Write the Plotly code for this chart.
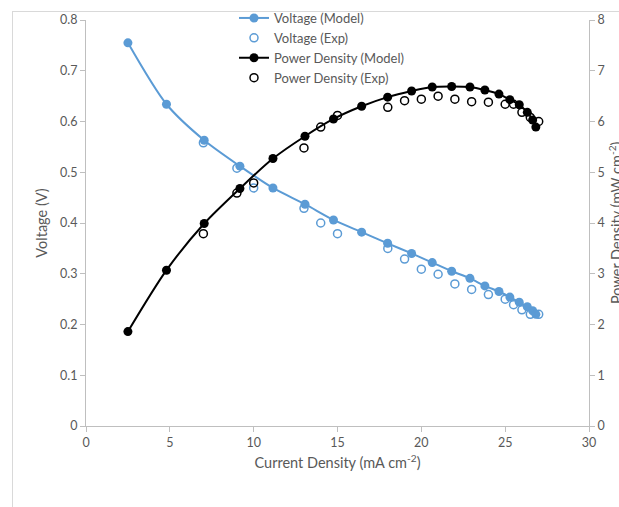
import plotly.graph_objects as go

# Model curves
model_current = [2.5, 4.8, 7.05, 9.18, 11.15, 13.06, 14.76, 16.44, 17.99, 19.42,
                 20.65, 21.81, 22.9, 23.79, 24.63, 25.28, 25.84, 26.32, 26.64, 26.83]
model_voltage = [0.755, 0.634, 0.563, 0.512, 0.469, 0.437, 0.406, 0.382, 0.360, 0.340,
                 0.322, 0.305, 0.291, 0.276, 0.265, 0.254, 0.244, 0.235, 0.227, 0.220]
model_power = [1.86, 3.07, 3.99, 4.68, 5.27, 5.71, 6.05, 6.30, 6.48, 6.60,
               6.68, 6.69, 6.68, 6.62, 6.54, 6.43, 6.33, 6.18, 6.03, 5.89]

# Experimental data
exp_current = [7, 9, 10, 13, 14, 15, 18, 19, 20, 21, 22, 23, 24, 25, 25.5, 26, 26.5, 27]
exp_voltage = [0.558, 0.508, 0.469, 0.429, 0.400, 0.379, 0.350, 0.329, 0.309, 0.299,
               0.280, 0.269, 0.259, 0.250, 0.239, 0.229, 0.220, 0.220]
exp_power = [3.79, 4.59, 4.79, 5.48, 5.89, 6.12, 6.28, 6.41, 6.44, 6.50,
             6.44, 6.39, 6.38, 6.34, 6.34, 6.18, 6.08, 6.00]

BLUE = "#5B9BD5"
GRAY = "#595959"
AXIS = "#BFBFBF"
FONT = "Lato"

fig = go.Figure()
fig.add_trace(go.Scatter(
    x=model_current, y=model_voltage, name="Voltage (Model)",
    mode="lines+markers", line=dict(color=BLUE, width=2, shape="spline", smoothing=0.8),
    marker=dict(color=BLUE, size=9, symbol="circle"), yaxis="y"))
fig.add_trace(go.Scatter(
    x=exp_current, y=exp_voltage, name="Voltage (Exp)", mode="markers",
    marker=dict(color=BLUE, size=8, symbol="circle-open", line=dict(width=1.5)),
    yaxis="y"))
fig.add_trace(go.Scatter(
    x=model_current, y=model_power, name="Power Density (Model)",
    mode="lines+markers", line=dict(color="black", width=2, shape="spline", smoothing=0.8),
    marker=dict(color="black", size=9, symbol="circle"), yaxis="y2"))
fig.add_trace(go.Scatter(
    x=exp_current, y=exp_power, name="Power Density (Exp)", mode="markers",
    marker=dict(color="black", size=8, symbol="circle-open", line=dict(width=1.5)),
    yaxis="y2"))

L, R, T, B = 86, 30, 20, 81
W, H = 619, 507
pw, ph = W - L - R, H - T - B

def px_x(p):
    return (p - L) / pw

def px_y(p):
    return (H - B - p) / ph

axis_common = dict(showgrid=False, zeroline=False, showline=True, linecolor=AXIS,
                   linewidth=1, ticks="outside", ticklen=5, tickcolor=AXIS,
                   tickfont=dict(family=FONT, size=12.5, color=GRAY))

fig.update_layout(
    width=W, height=H,
    margin=dict(l=L, r=R, t=T, b=B, pad=0, autoexpand=False),
    paper_bgcolor="white", plot_bgcolor="white",
    font=dict(family=FONT, size=12, color=GRAY),
    xaxis=dict(range=[0, 30], dtick=5, tick0=0,
               title=dict(text="Current Density (mA cm<sup>-2</sup>)",
                          font=dict(family=FONT, size=14.5, color=GRAY), standoff=8),
               **axis_common),
    yaxis=dict(range=[0, 0.8], dtick=0.1, tick0=0,
               title=dict(text="Voltage (V)", font=dict(family=FONT, size=14.5, color=GRAY),
                          standoff=8),
               **axis_common),
    yaxis2=dict(range=[0, 8], dtick=1, tick0=0, overlaying="y", side="right",
                **axis_common),
    showlegend=True,
    legend=dict(x=px_x(234), y=px_y(3), xanchor="left", yanchor="top",
                bgcolor="rgba(0,0,0,0)", font=dict(family=FONT, size=13, color=GRAY),
                tracegroupgap=0),
)

# Right axis title (partially clipped at the figure edge like the reference)
fig.add_annotation(text="Power Density (mW cm<sup>-2</sup>)", xref="paper", yref="paper",
                   x=px_x(615), y=0.5, xanchor="center", yanchor="middle",
                   textangle=-90, showarrow=False,
                   font=dict(family=FONT, size=14.5, color=GRAY))

# outer chart frame
fig.add_shape(type="line", xref="paper", yref="paper",
              x0=px_x(12), x1=px_x(640), y0=px_y(11.5), y1=px_y(11.5),
              line=dict(color="#D9D9D9", width=1))
fig.add_shape(type="line", xref="paper", yref="paper",
              x0=px_x(12.5), x1=px_x(12.5), y0=px_y(11.5), y1=px_y(520),
              line=dict(color="#D9D9D9", width=1))

fig.write_html("out.html")
